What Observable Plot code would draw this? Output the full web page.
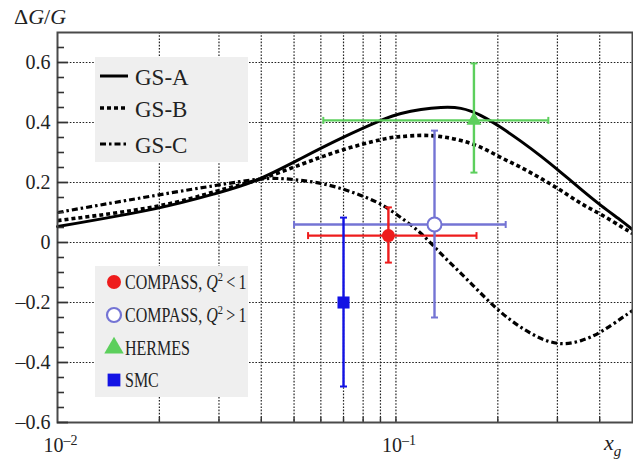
<!DOCTYPE html>
<html><head><meta charset="utf-8">
<script src="https://cdn.jsdelivr.net/npm/d3@7"></script>
<script src="https://cdn.jsdelivr.net/npm/@observablehq/plot@0.6"></script>
<style>
body{margin:0;background:#fff}
#chart{width:633px;height:463px;overflow:hidden}
</style>
</head><body><div id="chart"></div>
<script>
// ---- curve data (x_g, ΔG/G) ----
const gsAX = [0.01, 0.0195, 0.0293, 0.0386, 0.0524, 0.0688, 0.0903, 0.1035, 0.1186, 0.1358, 0.1556, 0.1784, 0.2045, 0.2343, 0.2685, 0.3076, 0.3525, 0.404, 0.463, 0.50];
const gsAY = [0.053, 0.113, 0.163, 0.207, 0.28, 0.347, 0.407, 0.43, 0.443, 0.45, 0.447, 0.423, 0.383, 0.337, 0.287, 0.233, 0.177, 0.123, 0.073, 0.043];
const gsBX = [0.01, 0.0195, 0.0293, 0.0386, 0.0524, 0.0688, 0.0903, 0.1035, 0.1186, 0.1358, 0.1556, 0.1784, 0.2045, 0.2343, 0.2685, 0.3076, 0.3525, 0.404, 0.463, 0.50];
const gsBY = [0.073, 0.12, 0.17, 0.207, 0.26, 0.307, 0.343, 0.353, 0.357, 0.353, 0.34, 0.317, 0.283, 0.25, 0.213, 0.173, 0.13, 0.093, 0.053, 0.03];
const gsCX = [0.01, 0.0195, 0.0293, 0.0386, 0.0457, 0.0524, 0.06, 0.0688, 0.0788, 0.0903, 0.1035, 0.1186, 0.1358, 0.1556, 0.1784, 0.2045, 0.2343, 0.2685, 0.3076, 0.3525, 0.404, 0.463, 0.50];
const gsCY = [0.10, 0.157, 0.19, 0.21, 0.213, 0.207, 0.197, 0.18, 0.157, 0.127, 0.083, 0.03, -0.037, -0.103, -0.17, -0.233, -0.283, -0.32, -0.337, -0.327, -0.297, -0.253, -0.227];

// ---- measurements ----
const expNames = ["COMPASS, Q²<1", "COMPASS, Q²>1", "HERMES", "SMC"];
const expX   = [0.095, 0.13, 0.17, 0.07];
const expY   = [0.023, 0.06, 0.407, -0.20];
const expXLo = [0.055, 0.050, 0.061, null];
const expXHi = [0.173, 0.211, 0.282, null];
const expYLo = [-0.067, -0.25, 0.233, -0.48];
const expYHi = [0.117, 0.373, 0.597, 0.083];
const expColor = ["#ee1c1c", "#7474d4", "#5ccf5c", "#1212e4"];

// ---- ticks ----
const yMajor = [-0.6, -0.4, -0.2, 0, 0.2, 0.4, 0.6];
const yMinor = d3.range(-0.55, 0.7, 0.05).map(v => +v.toFixed(2)).filter(v => !yMajor.includes(v));
const xGrid = [0.02, 0.03, 0.04, 0.05, 0.06, 0.07, 0.08, 0.09, 0.1, 0.2, 0.3, 0.4];
const xLabels = [0.01, 0.1];

const W = 633, H = 463, mL = 57, mR = 1, mT = 32, mB = 41;
const pW = W - mL - mR, pH = H - mT - mB;

const rows = (xs, ys) => xs.map((x, i) => ({x, y: ys[i]}));
const exps = expNames.map((name, i) => ({name, x: expX[i], y: expY[i], xlo: expXLo[i], xhi: expXHi[i], ylo: expYLo[i], yhi: expYHi[i], color: expColor[i]}));
const hBars = exps.filter(d => d.xlo != null);
const xCaps = hBars.flatMap(d => [{x: d.xlo, y: d.y, color: d.color}, {x: d.xhi, y: d.y, color: d.color}]);
const yCaps = exps.flatMap(d => [{x: d.x, y: d.ylo, color: d.color}, {x: d.x, y: d.yhi, color: d.color}]);

const vCapSym = {draw(c, s) { const r = Math.sqrt(s / Math.PI); c.moveTo(0, -r); c.lineTo(0, r); }};
const hCapSym = {draw(c, s) { const r = Math.sqrt(s / Math.PI); c.moveTo(-r, 0); c.lineTo(r, 0); }};

const fmtY = d => d === 0 ? "0" : (d < 0 ? "\u2013" : "") + Math.abs(d).toFixed(1);
const dashB = "4,3", dashC = "6,3,2.5,3";

const plot = Plot.plot({
  width: W, height: H, marginLeft: mL, marginRight: mR, marginTop: mT, marginBottom: mB,
  style: {fontFamily: "'Liberation Serif', 'Times New Roman', serif", fontSize: "20px", color: "#222", background: "#fff", overflow: "visible"},
  x: {type: "log", domain: [0.01, 0.5]},
  y: {domain: [-0.6, 0.7]},
  marks: [
    Plot.ruleY(yMajor.filter(v => v > -0.6), {stroke: "#222", strokeWidth: 1.2, strokeDasharray: "1.6,1.6"}),
    Plot.ruleX(xGrid, {stroke: "#222", strokeWidth: 1.2, strokeDasharray: "1.6,1.6"}),
    Plot.line(rows(gsCX, gsCY), {x: "x", y: "y", curve: "natural", stroke: "#000", strokeWidth: 3.2, strokeDasharray: dashC, strokeLinecap: "butt"}),
    Plot.line(rows(gsBX, gsBY), {x: "x", y: "y", curve: "natural", stroke: "#000", strokeWidth: 3.6, strokeDasharray: dashB, strokeLinecap: "butt"}),
    Plot.line(rows(gsAX, gsAY), {x: "x", y: "y", curve: "natural", stroke: "#000", strokeWidth: 3}),
    Plot.ruleY(hBars, {y: "y", x1: "xlo", x2: "xhi", stroke: "color", strokeWidth: 2.4}),
    Plot.ruleX(exps, {x: "x", y1: "ylo", y2: "yhi", stroke: "color", strokeWidth: 2.4}),
    Plot.dot(xCaps, {x: "x", y: "y", symbol: vCapSym, r: 3.5, stroke: "color", strokeWidth: 2}),
    Plot.dot(yCaps, {x: "x", y: "y", symbol: hCapSym, r: 3.5, stroke: "color", strokeWidth: 2}),
    Plot.dot([exps[0]], {x: "x", y: "y", r: 6.5, fill: "color", stroke: "none"}),
    Plot.dot([exps[1]], {x: "x", y: "y", r: 7, fill: "#fff", stroke: "color", strokeWidth: 2}),
    Plot.dot([exps[2]], {x: "x", y: "y", r: 5.5, symbol: "triangle", fill: "color", stroke: "none"}),
    Plot.dot([exps[3]], {x: "x", y: "y", r: 6.8, symbol: "square", fill: "color", stroke: "none"}),
    Plot.frame({stroke: "#4a4a4a", strokeWidth: 2}),
    Plot.ruleY(yMinor, {stroke: "#333", strokeWidth: 1.6, insetRight: pW - 7}),
    Plot.ruleY(yMajor, {stroke: "#333", strokeWidth: 1.8, insetRight: pW - 11}),
    Plot.ruleX(xGrid, {stroke: "#333", strokeWidth: 1.4, insetTop: pH - 5}),
    Plot.axisY({ticks: yMajor, tickSize: 0, tickPadding: 7, tickFormat: fmtY, label: null, fontSize: 20}),
    Plot.axisX({ticks: xLabels, tickSize: 0, tickPadding: 15, tickFormat: d => "10^" + Math.round(Math.log10(d)), label: null, fontSize: 20, dx: 3})
  ]
});

const svg = d3.select(plot);
// superscripts on x tick labels
svg.selectAll('g[aria-label="x-axis tick label"] text').each(function() {
  const t = d3.select(this), s = t.text().split("^");
  t.text(s[0]);
  t.append("tspan").attr("dy", "-0.45em").attr("font-size", "14px").text(s[1].replace("-", "\u2013"));
});

const serif = "'Liberation Serif', 'Times New Roman', serif";
// y title
const ty = svg.append("text").attr("x", 14).attr("y", 24).attr("text-anchor", "start").attr("font-family", serif).attr("font-size", 22).attr("fill", "#222");
ty.append("tspan").text("\u0394");
ty.append("tspan").attr("font-style", "italic").text("G");
ty.append("tspan").text("/");
ty.append("tspan").attr("font-style", "italic").text("G");
// x title
const tx = svg.append("text").attr("x", 604).attr("y", 450).attr("text-anchor", "start").attr("font-family", serif).attr("font-size", 22).attr("font-style", "italic").attr("fill", "#222");
tx.append("tspan").text("x");
tx.append("tspan").attr("dy", 6).attr("font-size", 15).text("g");

// legend 1: curves
const lg1 = svg.append("g");
lg1.append("rect").attr("x", 95).attr("y", 57).attr("width", 153).attr("height", 105).attr("fill", "#efefef");
const curveKeys = [["GS-A", null, 3, 76], ["GS-B", dashB, 3.6, 108], ["GS-C", dashC, 3.2, 144]];
curveKeys.forEach(([name, dash, sw, y]) => {
  const l = lg1.append("line").attr("x1", 100).attr("x2", 128).attr("y1", y).attr("y2", y).attr("stroke", "#000").attr("stroke-width", sw).attr("stroke-linecap", "butt");
  if (dash) l.attr("stroke-dasharray", dash);
  lg1.append("text").attr("x", 135).attr("y", y + 9).attr("text-anchor", "start").attr("font-family", serif).attr("font-size", 23).attr("fill", "#222").text(name);
});

// legend 2: measurements
const lg2 = svg.append("g");
lg2.append("rect").attr("x", 95).attr("y", 266).attr("width", 153).attr("height", 131).attr("fill", "#efefef");
const ys2 = [282, 315, 348, 380];
const sym = [d3.symbolCircle, d3.symbolCircle, d3.symbolTriangle, d3.symbolSquare];
const sizes = [Math.PI * 49, Math.PI * 49, Math.PI * 52, Math.PI * 52];
exps.forEach((d, i) => {
  const p = lg2.append("path").attr("transform", `translate(114,${ys2[i]})`).attr("d", d3.symbol(sym[i], sizes[i])());
  if (i === 1) p.attr("fill", "#fff").attr("stroke", d.color).attr("stroke-width", 2.2);
  else p.attr("fill", d.color);
  const t = lg2.append("text").attr("transform", `translate(125,${ys2[i] + 7}) scale(0.8,1)`).attr("text-anchor", "start").attr("font-family", serif).attr("font-size", 20).attr("fill", "#222");
  const m = d.name.match(/^(.*), Q²(.)(\d)$/);
  if (m) {
    t.append("tspan").text(m[1] + ", ");
    t.append("tspan").attr("font-style", "italic").text("Q");
    t.append("tspan").attr("dy", -8).attr("font-size", 13).text("2");
    t.append("tspan").attr("dy", 8).text("\u2009" + m[2] + "\u2009" + m[3]);
  } else t.text(d.name);
});

document.getElementById("chart").appendChild(plot);
</script>
</body></html>
